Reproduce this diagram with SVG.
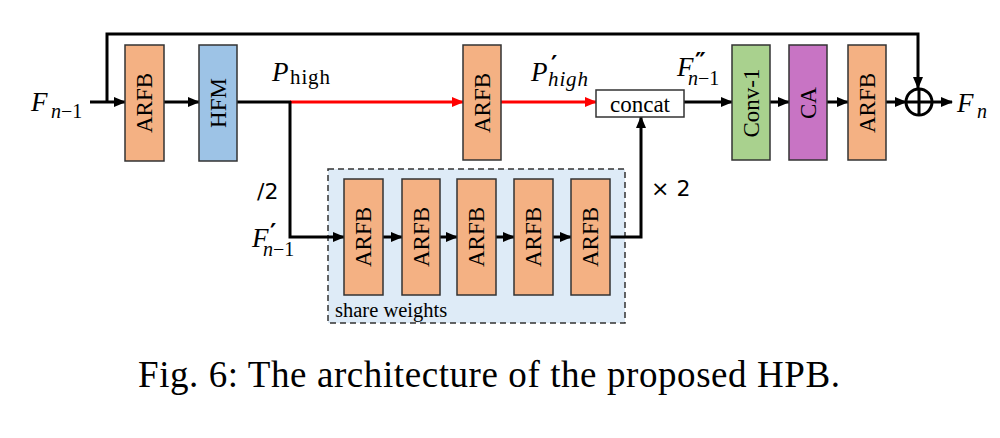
<svg xmlns="http://www.w3.org/2000/svg" width="1000" height="438" viewBox="0 0 1000 438">
<defs>
<marker id="ah" markerUnits="userSpaceOnUse" markerWidth="12" markerHeight="12" refX="11" refY="6" orient="auto"><path d="M0,1 L12,6 L0,11 z" fill="#000"/></marker>
<marker id="ahr" markerUnits="userSpaceOnUse" markerWidth="12" markerHeight="12" refX="11" refY="6" orient="auto"><path d="M0,1 L12,6 L0,11 z" fill="#f00"/></marker>
<style>
.box{stroke:#333;stroke-width:1.5}
.arfb{fill:#F4B183}
.hfm{fill:#9DC3E6}
.conv{fill:#A9D18E}
.ca{fill:#C874C4}
.bt{font-family:"Liberation Serif",serif;font-size:23px;fill:#000;text-anchor:middle;dominant-baseline:central}
.ln{fill:none;stroke:#000;stroke-width:3}
.red{fill:none;stroke:#f00;stroke-width:3}
.m{font-family:"Liberation Serif",serif;font-style:italic;fill:#000}
.up{font-family:"Liberation Serif",serif;fill:#000;font-style:normal}
.pr{font-family:"DejaVu Serif",serif;font-style:normal;font-weight:bold;fill:#000}
.sans{font-family:"DejaVu Sans",sans-serif;fill:#000;font-size:22px}
</style>
</defs>
<rect width="1000" height="438" fill="#fff"/>

<g id="share-weights">
<rect x="328" y="169" width="297" height="154" fill="#DEEBF7" stroke="#333" stroke-width="1.5" stroke-dasharray="6,4"/>
<text x="335" y="317" class="up" font-size="20.5">share weights</text>
</g>

<g id="connectors">
<path class="ln" d="M90,102 H125" marker-end="url(#ah)"/>
<path class="ln" d="M107,102 V34 H918 V88" marker-end="url(#ah)"/>
<path class="ln" d="M164,102 H199" marker-end="url(#ah)"/>
<path class="ln" d="M237,102 H291"/>
<path class="red" d="M290,102 H463" marker-end="url(#ahr)"/>
<path class="red" d="M501,102 H596" marker-end="url(#ahr)"/>
<path class="ln" d="M290,101 V237 H344" marker-end="url(#ah)"/>
<path class="ln" d="M383,237 H402" marker-end="url(#ah)"/>
<path class="ln" d="M440,237 H457" marker-end="url(#ah)"/>
<path class="ln" d="M496,237 H514" marker-end="url(#ah)"/>
<path class="ln" d="M553,237 H571" marker-end="url(#ah)"/>
<path class="ln" d="M610,237 H641 V117" marker-end="url(#ah)"/>
<path class="ln" d="M684,102 H732" marker-end="url(#ah)"/>
<path class="ln" d="M770,102 H789" marker-end="url(#ah)"/>
<path class="ln" d="M827,102 H848" marker-end="url(#ah)"/>
<path class="ln" d="M886,102 H906" marker-end="url(#ah)"/>
<path class="ln" d="M932,102 H952" marker-end="url(#ah)"/>
</g>

<g id="arfb1"><rect class="box arfb" x="125" y="45" width="39" height="116"/><text class="bt" transform="translate(144.5,103) rotate(-90)">ARFB</text></g>
<g id="hfm"><rect class="box hfm" x="199" y="45" width="38" height="116"/><text class="bt" transform="translate(218,103) rotate(-90)">HFM</text></g>
<g id="arfb2"><rect class="box arfb" x="463" y="45" width="38" height="115"/><text class="bt" transform="translate(482,103) rotate(-90)">ARFB</text></g>
<g id="concat"><rect x="596" y="90" width="88" height="27" fill="#fff" stroke="#333" stroke-width="1.5"/><text class="up" x="640" y="112" font-size="23" text-anchor="middle">concat</text></g>
<g id="conv1"><rect class="box conv" x="732" y="45" width="38" height="115"/><text class="bt" transform="translate(751,103) rotate(-90)">Conv-1</text></g>
<g id="ca"><rect class="box ca" x="789" y="45" width="38" height="115"/><text class="bt" transform="translate(808,103) rotate(-90)">CA</text></g>
<g id="arfb3"><rect class="box arfb" x="848" y="45" width="38" height="115"/><text class="bt" transform="translate(867,103) rotate(-90)">ARFB</text></g>
<g id="sum"><circle cx="919" cy="102" r="13" fill="#fff" stroke="#000" stroke-width="3"/><path d="M906,102 H932 M919,89 V115" stroke="#000" stroke-width="3"/></g>

<g id="arfb-s1"><rect class="box arfb" x="344" y="179" width="39" height="116"/><text class="bt" transform="translate(363.5,237) rotate(-90)">ARFB</text></g>
<g id="arfb-s2"><rect class="box arfb" x="402" y="179" width="38" height="116"/><text class="bt" transform="translate(421,237) rotate(-90)">ARFB</text></g>
<g id="arfb-s3"><rect class="box arfb" x="457" y="179" width="39" height="116"/><text class="bt" transform="translate(476.5,237) rotate(-90)">ARFB</text></g>
<g id="arfb-s4"><rect class="box arfb" x="514" y="179" width="39" height="116"/><text class="bt" transform="translate(533.5,237) rotate(-90)">ARFB</text></g>
<g id="arfb-s5"><rect class="box arfb" x="571" y="179" width="39" height="116"/><text class="bt" transform="translate(590.5,237) rotate(-90)">ARFB</text></g>

<g id="labels">
<text class="m" x="31" y="111" font-size="27">F<tspan x="51" y="118" font-size="20">n</tspan><tspan class="up" font-size="20">−1</tspan></text>

<text class="m" x="272" y="81" font-size="27">P<tspan class="up" x="290" y="84" font-size="21" textLength="40">high</tspan></text>

<text class="m" x="531" y="81" font-size="27">P<tspan class="pr" x="551" y="73" font-size="24">′</tspan><tspan x="548" y="86" font-size="21" textLength="40">high</tspan></text>

<text class="m" x="677" y="76" font-size="27">F<tspan class="pr" x="695" y="70" font-size="24">″</tspan><tspan x="688" y="85" font-size="20">n</tspan><tspan class="up" font-size="20">−1</tspan></text>

<text class="m" x="252" y="247" font-size="27">F<tspan class="pr" x="270" y="241" font-size="24">′</tspan><tspan x="263" y="256" font-size="20">n</tspan><tspan class="up" font-size="20">−1</tspan></text>

<text class="m" x="957" y="112" font-size="27">F<tspan x="977" y="118" font-size="20">n</tspan></text>

<text class="sans" x="257" y="199">/2</text>
<text class="sans" x="651" y="196">× 2</text>
</g>

<text id="caption" class="up" x="138" y="387" font-size="37" textLength="702" lengthAdjust="spacing">Fig. 6: The architecture of the proposed HPB.</text>
</svg>
